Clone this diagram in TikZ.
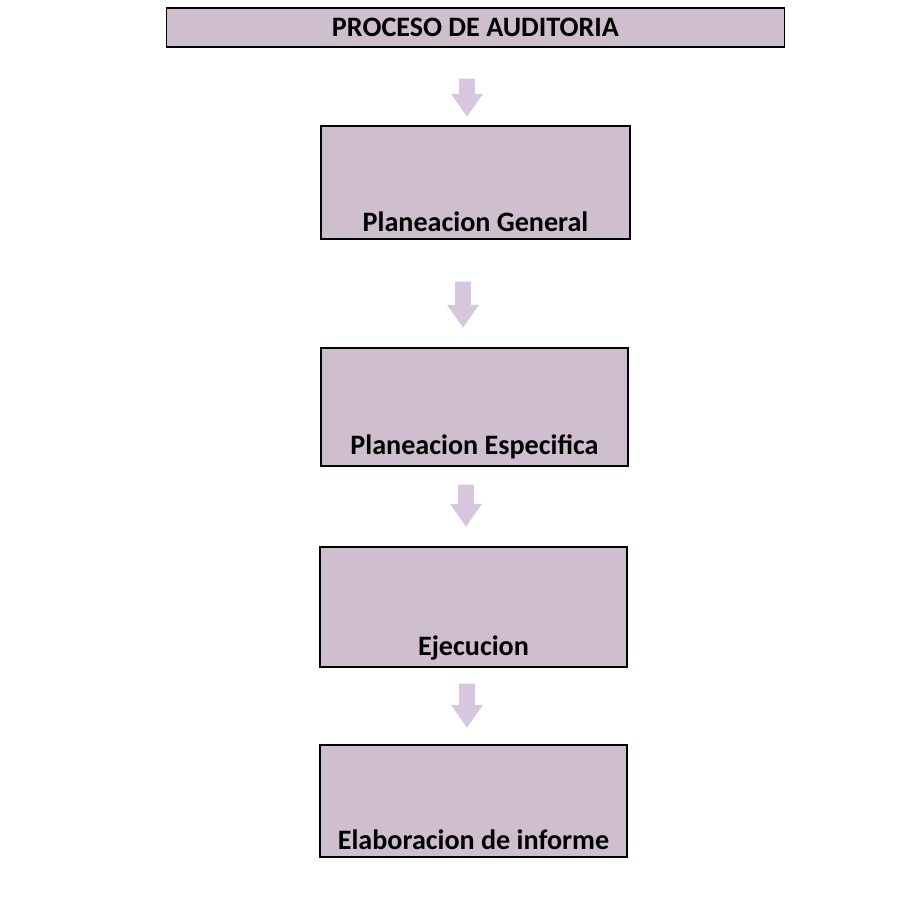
\documentclass[tikz,border=0pt]{standalone}
\usepackage{fontspec}
\setmainfont{Carlito}
\usetikzlibrary{shapes.arrows,positioning,calc}
\definecolor{BoxMauve}{RGB}{206,190,206}
\definecolor{ArrowLilac}{RGB}{214,198,222}

\begin{document}
\begin{tikzpicture}[
  x=0.025cm,y=-0.025cm,
  caja/.style={rectangle,draw=black,line width=1.1pt,fill=BoxMauve,inner sep=0pt},
  etiq/.style={anchor=south,font=\bfseries\fontsize{20}{24}\selectfont,yshift=2pt},
  flecha/.style={single arrow,fill=ArrowLilac,draw=none,shape border rotate=270,
    minimum height=0.95cm,inner sep=0.19cm,single arrow head extend=0.2cm,
    single arrow tip angle=70}
]
  \useasboundingbox (0,0) rectangle (919,899);
  \node[caja,minimum width=15.45cm,minimum height=0.98cm,font=\bfseries\fontsize{20}{24}\selectfont] (titulo) at (475.5,27.5) {PROCESO DE AUDITORIA};
  \node[caja,minimum width=7.72cm,minimum height=2.82cm,label={[etiq]south:Planeacion General}] (p1) at (475.5,182.5) {};
  \node[caja,minimum width=7.67cm,minimum height=2.95cm,label={[etiq]south:Planeacion Especifica}] (p2) at (474.5,407) {};
  \node[caja,minimum width=7.67cm,minimum height=3.0cm,label={[etiq]south:Ejecucion}] (p3) at (473.5,607) {};
  \node[caja,minimum width=7.67cm,minimum height=2.8cm,label={[etiq]south:Elaboracion de informe}] (p4) at (473.5,801) {};
  \node[flecha] (f1) at (467,92) {};
  \node[flecha,minimum height=1.15cm] (f2) at (463,299) {};
  \node[flecha,minimum height=1.05cm] (f3) at (466,500) {};
  \node[flecha,minimum height=1.1cm] (f4) at (467,700) {};
\end{tikzpicture}
\end{document}
